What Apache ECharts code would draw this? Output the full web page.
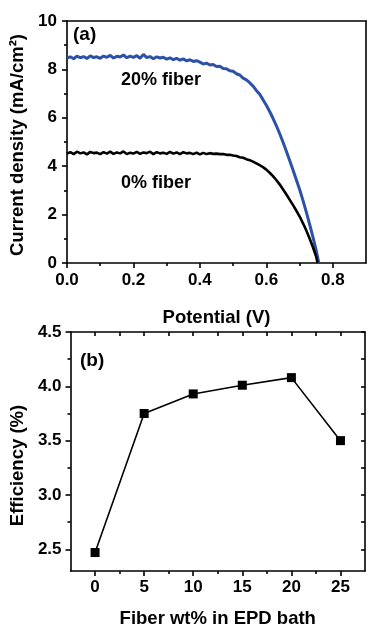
<!DOCTYPE html>
<html>
<head>
<meta charset="utf-8">
<script src="https://cdn.jsdelivr.net/npm/echarts@6/dist/echarts.min.js"></script>
<style>
html,body{margin:0;padding:0;background:#fff;}
#chart{width:367px;height:629px;}
</style>
</head>
<body>
<div id="chart"></div>
<script>
// ---- Panel (a): J–V curves ----
var potential = [0.00,0.01,0.02,0.03,0.04,0.05,0.06,0.07,0.08,0.09,
  0.10,0.11,0.12,0.13,0.14,0.15,0.16,0.17,0.18,0.19,
  0.20,0.21,0.22,0.23,0.24,0.25,0.26,0.27,0.28,0.29,
  0.30,0.31,0.32,0.33,0.34,0.35,0.36,0.37,0.38,0.39,
  0.40,0.41,0.42,0.43,0.44,0.45,0.46,0.47,0.48,0.49,
  0.50,0.51,0.52,0.53,0.54,0.55,0.56,0.57,0.58,0.59,
  0.60,0.61,0.62,0.63,0.64,0.65,0.66,0.67,0.68,0.69,
  0.70,0.71,0.72,0.73,0.74,0.75];
var vocFiber20 = 0.758;
var vocFiber0 = 0.754;
var jFiber20 = [8.47,8.52,8.44,8.55,8.48,8.53,8.45,8.56,8.49,8.52,
  8.46,8.55,8.50,8.58,8.47,8.54,8.51,8.60,8.48,8.55,
  8.50,8.57,8.46,8.62,8.49,8.53,8.44,8.52,8.47,8.50,
  8.42,8.48,8.40,8.46,8.38,8.44,8.35,8.40,8.33,8.36,
  8.30,8.22,8.26,8.18,8.20,8.12,8.13,8.04,8.03,7.94,
  7.92,7.82,7.77,7.64,7.57,7.45,7.31,7.13,6.97,6.75,
  6.52,6.26,5.98,5.68,5.35,5.00,4.63,4.25,3.85,3.45,
  3.05,2.60,2.12,1.62,1.09,0.52];
var jFiber0 = [4.52,4.58,4.50,4.60,4.53,4.57,4.49,4.59,4.54,4.56,
  4.50,4.58,4.52,4.60,4.51,4.57,4.53,4.61,4.50,4.56,
  4.52,4.59,4.51,4.57,4.54,4.60,4.50,4.58,4.53,4.56,
  4.51,4.59,4.52,4.57,4.50,4.58,4.53,4.55,4.50,4.56,
  4.49,4.55,4.50,4.54,4.51,4.52,4.50,4.50,4.47,4.47,
  4.44,4.42,4.37,4.35,4.29,4.25,4.19,4.12,4.04,3.96,
  3.86,3.73,3.59,3.43,3.25,3.05,2.84,2.62,2.40,2.17,
  1.93,1.65,1.35,1.02,0.66,0.27];
var aXMajor = [0, 0.2, 0.4, 0.6, 0.8];
var aXMinor = [0.1, 0.3, 0.5, 0.7];
var aYMajor = [0, 2, 4, 6, 8, 10];
var aYMinor = [1, 3, 5, 7, 9];

// ---- Panel (b): efficiency ----
var fiberWt = [0, 5, 10, 15, 20, 25];
var efficiency = [2.47, 3.75, 3.93, 4.01, 4.08, 3.50];
var bXMajor = [0, 5, 10, 15, 20, 25];
var bXMinor = [2.5, 7.5, 12.5, 17.5, 22.5];
var bYMajor = [2.5, 3.0, 3.5, 4.0, 4.5];
var bYMinor = [2.75, 3.25, 3.75, 4.25];

function pairs(xs, ys, voc) {
  var out = [];
  for (var i = 0; i < ys.length; i++) out.push([xs[i], ys[i]]);
  out.push([voc, 0]);
  return out;
}

var FONT = '"Liberation Sans", Arial, sans-serif';
var lineStyle = {color: '#000', width: 1.6};
var labelStyle = {fontFamily: FONT, fontWeight: 'bold', fontSize: 17, color: '#000'};
var nameStyle = {fontFamily: FONT, fontWeight: 'bold', fontSize: 18.5, color: '#000'};
var hiddenLine = {show: false, onZero: false};

function fmt1(v) { return v.toFixed(1); }

function mainAxis(opts) {
  return Object.assign({
    type: 'value', splitLine: {show: false},
    axisLine: {show: true, onZero: false, lineStyle: lineStyle},
  }, opts);
}

var chart = echarts.init(document.getElementById('chart'), null, {renderer: 'canvas'});
var option = {
  animation: false,
  backgroundColor: '#fff',
  grid: [
    {left: 67, top: 21, width: 299, height: 242, containLabel: false},
    {left: 67, top: 332, width: 298, height: 242, containLabel: false}
  ],
  xAxis: [
    // panel a
    mainAxis({gridIndex: 0, position: 'bottom', min: 0, max: 0.9,
      name: 'Potential (V)', nameLocation: 'middle', nameGap: 45, nameTextStyle: nameStyle,
      axisTick: {show: true, inside: false, length: 5, lineStyle: lineStyle, customValues: aXMajor},
      axisLabel: Object.assign({show: true, margin: 9, customValues: aXMajor, formatter: fmt1}, labelStyle)}),
    mainAxis({gridIndex: 0, position: 'bottom', min: 0, max: 0.9, axisLine: hiddenLine,
      axisTick: {show: true, inside: false, length: 3, lineStyle: lineStyle, customValues: aXMinor},
      axisLabel: {show: false}}),
    mainAxis({gridIndex: 0, position: 'top', min: 0, max: 0.9,
      axisTick: {show: false}, axisLabel: {show: false}}),
    // panel b
    mainAxis({gridIndex: 1, position: 'bottom', min: -2.5, max: 27.5,
      name: 'Fiber wt% in EPD bath', nameLocation: 'middle', nameGap: 38, nameTextStyle: nameStyle,
      axisTick: {show: true, inside: false, length: 5, lineStyle: lineStyle, customValues: bXMajor},
      axisLabel: Object.assign({show: true, margin: 8, customValues: bXMajor}, labelStyle)}),
    mainAxis({gridIndex: 1, position: 'bottom', min: -2.5, max: 27.5, axisLine: hiddenLine,
      axisTick: {show: true, inside: false, length: 3, lineStyle: lineStyle, customValues: bXMinor},
      axisLabel: {show: false}}),
    mainAxis({gridIndex: 1, position: 'top', min: -2.5, max: 27.5,
      axisTick: {show: true, inside: true, length: 4, lineStyle: lineStyle, customValues: bXMajor.concat(bXMinor)},
      axisLabel: {show: false}})
  ],
  yAxis: [
    // panel a
    mainAxis({gridIndex: 0, position: 'left', min: 0, max: 10,
      name: 'Current density (mA/cm\u00B2)', nameLocation: 'middle', nameGap: 36,
      nameTextStyle: Object.assign({padding: [0, 6, 0, 0]}, nameStyle),
      axisTick: {show: true, inside: false, length: 5, lineStyle: lineStyle, customValues: aYMajor},
      axisLabel: Object.assign({show: true, margin: 10, customValues: aYMajor}, labelStyle)}),
    mainAxis({gridIndex: 0, position: 'left', min: 0, max: 10, axisLine: hiddenLine,
      axisTick: {show: true, inside: false, length: 3, lineStyle: lineStyle, customValues: aYMinor},
      axisLabel: {show: false}}),
    mainAxis({gridIndex: 0, position: 'right', min: 0, max: 10,
      axisTick: {show: false}, axisLabel: {show: false}}),
    // panel b
    mainAxis({gridIndex: 1, position: 'left', min: 2.3, max: 4.5,
      name: 'Efficiency (%)', nameLocation: 'middle', nameGap: 39,
      nameTextStyle: Object.assign({padding: [0, 28, 0, 0]}, nameStyle),
      axisTick: {show: true, inside: false, length: 5, lineStyle: lineStyle, customValues: bYMajor},
      axisLabel: Object.assign({show: true, margin: 9, customValues: bYMajor, formatter: fmt1}, labelStyle)}),
    mainAxis({gridIndex: 1, position: 'left', min: 2.3, max: 4.5, axisLine: hiddenLine,
      axisTick: {show: true, inside: false, length: 3, lineStyle: lineStyle, customValues: bYMinor},
      axisLabel: {show: false}}),
    mainAxis({gridIndex: 1, position: 'right', min: 2.3, max: 4.5,
      axisTick: {show: true, inside: true, length: 4, lineStyle: lineStyle, customValues: bYMajor.concat(bYMinor)},
      axisLabel: {show: false}})
  ],
  series: [
    {type: 'line', name: '20% fiber', xAxisIndex: 0, yAxisIndex: 0, showSymbol: false, symbol: 'none',
      lineStyle: {color: '#2c51a8', width: 3}, data: pairs(potential, jFiber20, vocFiber20)},
    {type: 'line', name: '0% fiber', xAxisIndex: 0, yAxisIndex: 0, showSymbol: false, symbol: 'none',
      lineStyle: {color: '#000', width: 2.6}, data: pairs(potential, jFiber0, vocFiber0)},
    {type: 'line', name: 'Efficiency', xAxisIndex: 3, yAxisIndex: 3, symbol: 'rect', symbolSize: 9,
      itemStyle: {color: '#000'}, lineStyle: {color: '#000', width: 1.6},
      data: fiberWt.map(function (w, i) { return [w, efficiency[i]]; })}
  ],
  graphic: [
    {type: 'text', left: 73, top: 25, style: {text: '(a)', font: 'bold 19px ' + FONT, fill: '#000'}},
    {type: 'text', left: 121, top: 71, style: {text: '20% fiber', font: 'bold 18px ' + FONT, fill: '#000'}},
    {type: 'text', left: 121, top: 174, style: {text: '0% fiber', font: 'bold 18px ' + FONT, fill: '#000'}},
    {type: 'text', left: 80, top: 351, style: {text: '(b)', font: 'bold 19px ' + FONT, fill: '#000'}}
  ]
};
chart.setOption(option);
</script>
</body>
</html>
